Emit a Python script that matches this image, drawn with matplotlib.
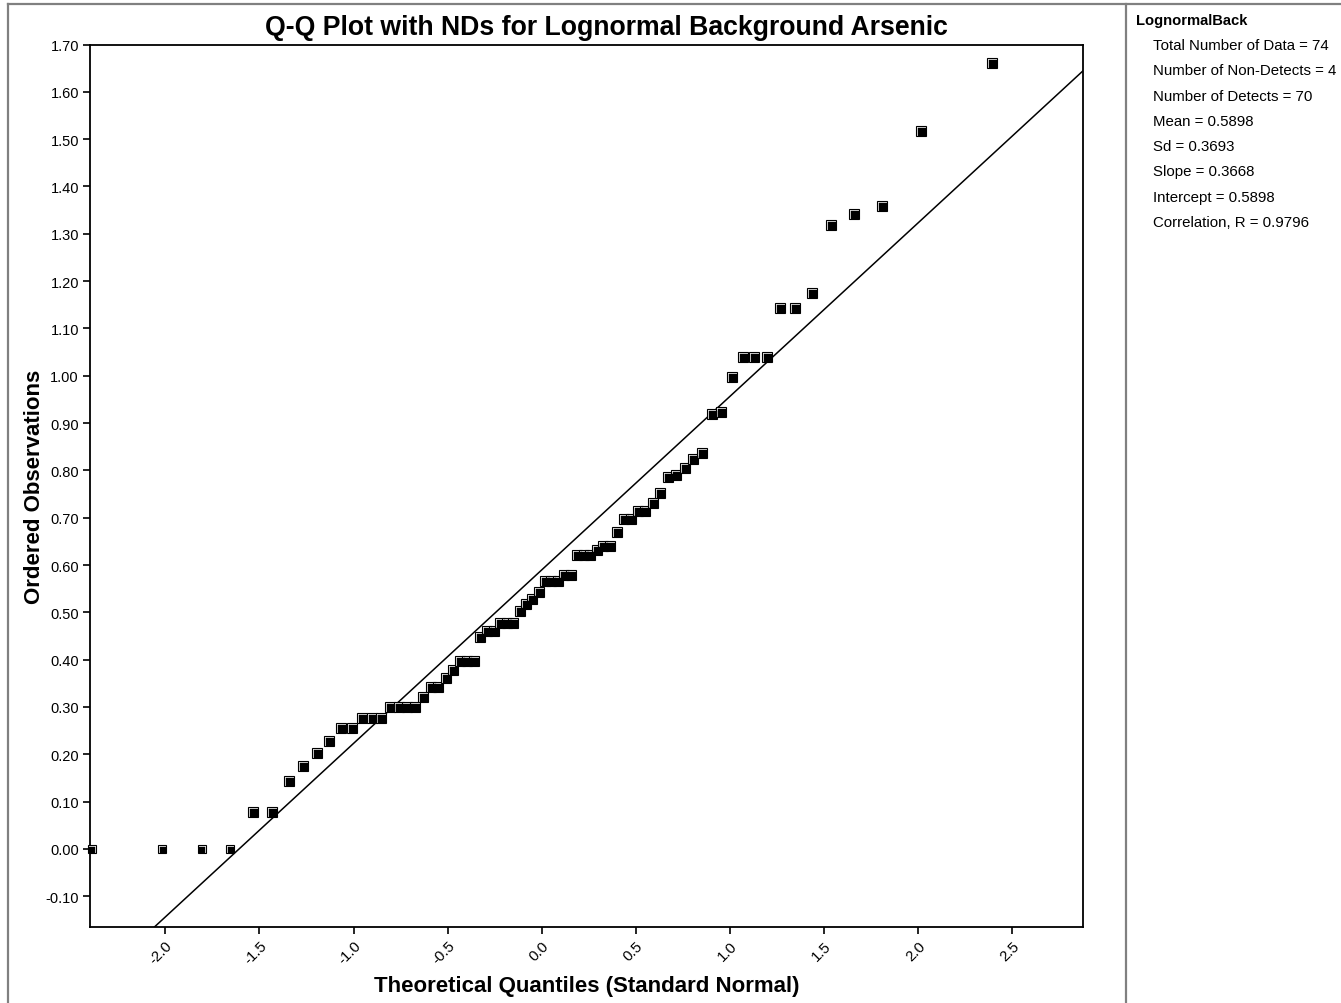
import matplotlib
matplotlib.use('Agg')
import matplotlib.pyplot as plt
import matplotlib.transforms as mtransforms
from matplotlib.lines import Line2D

plt.rcParams['font.family'] = ['Liberation Sans', 'DejaVu Sans']

# theoretical quantiles and ordered observations
nd_x = [-2.391, -2.016, -1.807, -1.657]
nd_y = [0.0, 0.0, 0.0, 0.0]

det_x = [-1.536, -1.434, -1.345, -1.266, -1.194, -1.128, -1.067, -1.009, -0.954, -0.902,
         -0.853, -0.805, -0.759, -0.714, -0.672, -0.630, -0.589, -0.550, -0.511, -0.473,
         -0.435, -0.399, -0.362, -0.327, -0.291, -0.256, -0.222, -0.187, -0.153, -0.118,
         -0.085, -0.051, -0.017, 0.017, 0.051, 0.085, 0.118, 0.153, 0.187, 0.222,
         0.256, 0.291, 0.327, 0.362, 0.399, 0.435, 0.473, 0.511, 0.550, 0.589,
         0.630, 0.672, 0.714, 0.759, 0.805, 0.853, 0.902, 0.954, 1.009, 1.067,
         1.128, 1.194, 1.266, 1.345, 1.434, 1.536, 1.657, 1.807, 2.016, 2.391]
det_y = [0.078, 0.078, 0.144, 0.175, 0.202, 0.229, 0.255, 0.255, 0.277, 0.277,
         0.277, 0.299, 0.299, 0.299, 0.299, 0.322, 0.342, 0.342, 0.362, 0.378,
         0.397, 0.397, 0.397, 0.447, 0.461, 0.461, 0.477, 0.477, 0.477, 0.503,
         0.517, 0.529, 0.542, 0.567, 0.567, 0.567, 0.579, 0.579, 0.622, 0.622,
         0.622, 0.632, 0.641, 0.641, 0.669, 0.698, 0.698, 0.715, 0.715, 0.731,
         0.753, 0.786, 0.791, 0.804, 0.824, 0.836, 0.919, 0.923, 0.998, 1.039,
         1.039, 1.039, 1.144, 1.144, 1.175, 1.318, 1.342, 1.358, 1.517, 1.661]

slope = 0.3668
intercept = 0.5898

stats_title = 'LognormalBack'
stats_lines = ['Total Number of Data = 74',
               'Number of Non-Detects = 4',
               'Number of Detects = 70',
               'Mean = 0.5898',
               'Sd = 0.3693',
               'Slope = 0.3668',
               'Intercept = 0.5898',
               'Correlation, R = 0.9796']

W, H = 1341, 1004
fig = plt.figure(figsize=(W / 100, H / 100), dpi=100)
ax = fig.add_axes([90 / W, 1 - 928 / H, (1083 - 90) / W, (928 - 45.5) / H])

ax.set_xlim(-2.40, 2.875)
ax.set_ylim(-0.165, 1.70)


def bevel_markers(x, y, outer, inner, shift):
    # outlined white square with a black square pushed to the lower right
    ax.plot(x, y, ls='none', marker='s', ms=outer, mfc='white', mec='black',
            mew=0.8, clip_on=False, zorder=3)
    tr = mtransforms.offset_copy(ax.transData, fig=fig, x=shift, y=-shift, units='dots')
    ax.plot(x, y, ls='none', marker='s', ms=inner, mfc='black', mec='black',
            mew=0.3, transform=tr, clip_on=False, zorder=4)


bevel_markers(det_x, det_y, 7.2, 5.4, 1.0)
bevel_markers(nd_x, nd_y, 5.4, 3.9, 0.8)

ax.axline((0, intercept), slope=slope, color='black', lw=1.1, zorder=2)

yt = [round(-0.1 + 0.1 * k, 2) for k in range(19)]
ax.set_yticks(yt)
ax.set_yticklabels(['%.2f' % v for v in yt], fontsize=10.5)
xt = [-2.0, -1.5, -1.0, -0.5, 0.0, 0.5, 1.0, 1.5, 2.0, 2.5]
ax.set_xticks(xt)
ax.set_xticklabels(['%.1f' % v for v in xt], fontsize=10.8, rotation=45,
                   ha='right', va='top', rotation_mode='anchor')
ax.tick_params(direction='out', length=5, width=1.2, pad=3)
ax.tick_params(axis='x', pad=3)
for s in ax.spines.values():
    s.set_linewidth(1.3)

ax.set_xlabel('Theoretical Quantiles (Standard Normal)', fontsize=16, fontweight='bold', labelpad=6)
ax.set_ylabel('Ordered Observations', fontsize=16, fontweight='bold', labelpad=0)
fig.text(606 / W, 1 - 28 / H, 'Q-Q Plot with NDs for Lognormal Background Arsenic',
         fontsize=19.2, fontweight='bold', ha='center', va='center')

# frame lines of the graph window
gray = '#808080'
fig.add_artist(Line2D([8 / W, 1], [1 - 5 / H, 1 - 5 / H], color=gray, lw=1.6))
fig.add_artist(Line2D([8 / W, 8 / W], [0, 1 - 5 / H], color=gray, lw=1.6))
fig.add_artist(Line2D([1126 / W, 1126 / W], [0, 1 - 5 / H], color=gray, lw=1.6))

fig.text(1136 / W, 1 - 20.5 / H, stats_title, fontsize=10.6, fontweight='bold', va='center')
for k, line in enumerate(stats_lines):
    fig.text(1153 / W, 1 - (46 + 25.3 * k) / H, line, fontsize=10.8, va='center')

fig.savefig('out.png', dpi=100)
